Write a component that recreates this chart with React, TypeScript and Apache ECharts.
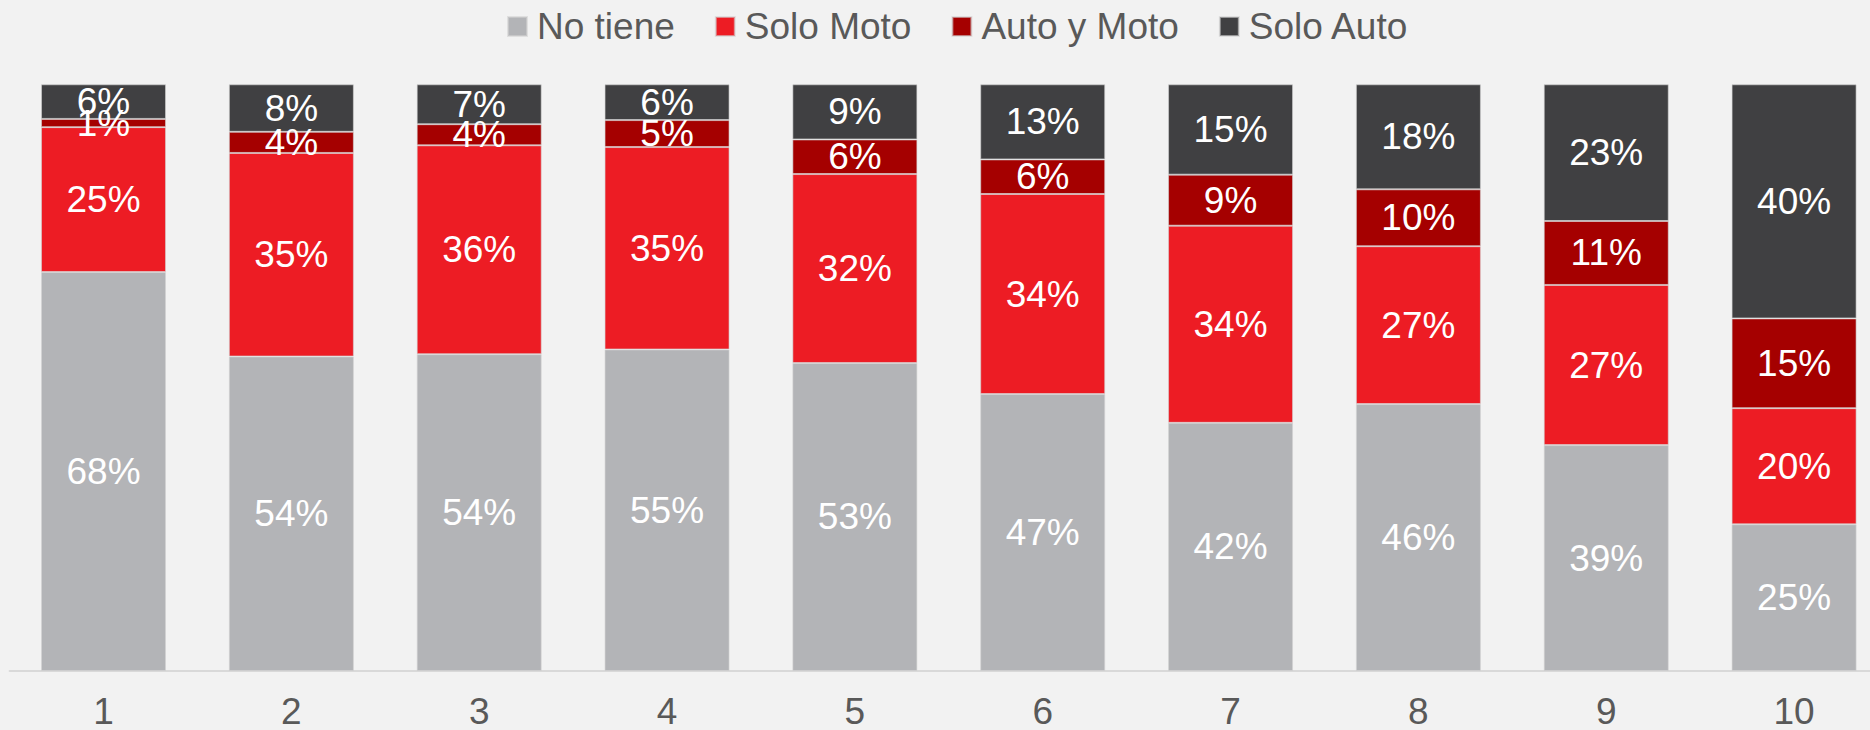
import React, { useEffect, useRef } from "react";
import * as echarts from "echarts";

const categories = ["1", "2", "3", "4", "5", "6", "7", "8", "9", "10"];
const noTiene = [68.0, 53.6, 54.0, 54.8, 52.5, 47.2, 42.3, 45.5, 38.5, 25.0];
const soloMoto = [24.7, 34.7, 35.6, 34.5, 32.2, 34.1, 33.6, 26.9, 27.3, 19.8];
const autoYMoto = [1.4, 3.6, 3.6, 4.6, 5.9, 5.9, 8.7, 9.7, 10.9, 15.3];
const soloAuto = [5.9, 8.1, 6.8, 6.1, 9.4, 12.8, 15.4, 17.9, 23.3, 39.9];

const seriesNames = ["No tiene", "Solo Moto", "Auto y Moto", "Solo Auto"];
const seriesColors = ["#B3B4B7", "#ED1C24", "#A50000", "#404042"];
const seriesData = [noTiene, soloMoto, autoYMoto, soloAuto];

const FONT = "'Liberation Sans', Arial, sans-serif";

export default function App() {
  const ref = useRef<HTMLDivElement>(null);
  useEffect(() => {
    document.body.style.margin = "0";
    document.body.style.overflow = "hidden";
    document.body.style.background = "#F2F2F2";
    const chart = echarts.init(ref.current!, null, { renderer: "svg" });
    chart.setOption({
      animation: false,
      backgroundColor: "#F2F2F2",
      legend: {
        top: 3,
        left: 502,
        itemWidth: 19,
        itemHeight: 19,
        itemGap: 40,
        icon: "rect",
        textStyle: {
          fontFamily: FONT,
          fontSize: 37,
          color: "#595959",
          padding: [0, 0, 0, 5],
        },
        data: seriesNames,
      },
      grid: { left: 9.6, right: 0, top: 84.3, bottom: 56.7 },
      xAxis: {
        type: "category",
        data: categories,
        axisLine: { lineStyle: { color: "#D9D9D9", width: 2 } },
        axisTick: { show: false },
        axisLabel: {
          fontFamily: FONT,
          fontSize: 37,
          color: "#595959",
          margin: 22,
        },
      },
      yAxis: {
        type: "value",
        min: 0,
        max: 100,
        show: false,
        splitLine: { show: false },
      },
      series: seriesNames.map((name, i) => ({
        name,
        type: "bar",
        stack: "total",
        barWidth: 125,
        data: seriesData[i],
        itemStyle: {
          color: seriesColors[i],
          borderColor: "rgba(210,210,210,0.6)",
          borderWidth: 1,
        },
        label: {
          show: true,
          position: "inside",
          color: "#FFFFFF",
          fontFamily: FONT,
          fontSize: 37,
          formatter: (p: any) => Math.round(p.value) + "%",
        },
      })),
    });
    return () => chart.dispose();
  }, []);
  return <div ref={ref} style={{ width: 1888.4, height: 730 }} />;
}
